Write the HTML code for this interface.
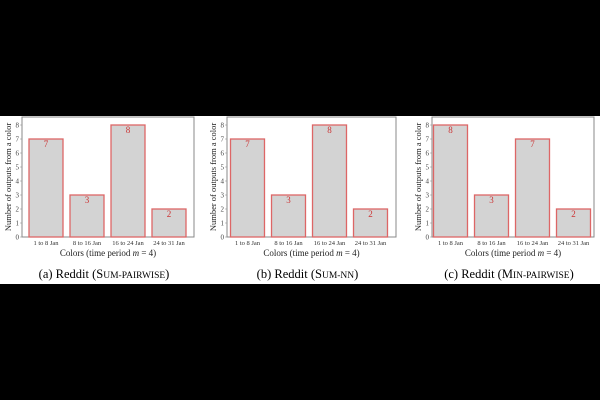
<!DOCTYPE html>
<html><head><meta charset="utf-8"><style>
body{margin:0;background:#000;width:600px;height:400px;overflow:hidden}
svg{display:block}
text{font-family:"Liberation Serif",serif}
</style></head><body>
<svg width="600" height="400">
<rect x="0" y="116" width="600" height="168" fill="#fff"/>
<g id="charts"></g>
</svg>
<script>
const categories=["1 to 8 Jan","8 to 16 Jan","16 to 24 Jan","24 to 31 Jan"];
const valuesA=[7,3,8,2];
const valuesB=[7,3,8,2];
const valuesC=[8,3,7,2];
const yTicks=[0,1,2,3,4,5,6,7,8];
const captions=["(a) Reddit (S","(b) Reddit (S","(c) Reddit (M"];
const captionSc=["um-Pairwise)","um-NN)","in-Pairwise)"];
const panels=[
 {vals:valuesA,left:22,right:194,first:46,ylab:8,name:"sum-pairwise"},
 {vals:valuesB,left:227,right:396,first:247.5,ylab:213,name:"sum-nn"},
 {vals:valuesC,left:432,right:594,first:450.5,ylab:418,name:"min-pairwise"}];
const NS="http://www.w3.org/2000/svg";
const root=document.getElementById('charts');
const plotTop=117,plotBottom=237,unit=14,step=41,bw=34;
function yPos(v){return plotBottom-v*unit;}
function mk(tag,attrs,parent,txt){const e=document.createElementNS(NS,tag);for(const k in attrs)e.setAttribute(k,attrs[k]);if(txt!==undefined)e.textContent=txt;parent.appendChild(e);return e;}
panels.forEach((p,pi)=>{
 const g=mk('g',{},root);
 
 
 const clip=mk('clipPath',{id:'c'+pi},g);mk('rect',{x:p.left-30,y:plotTop,width:p.right-p.left+40,height:200},clip);
 const ax=mk('rect',{x:p.left,y:plotTop,width:p.right-p.left,height:plotBottom-plotTop,fill:'none',stroke:'#888','stroke-width':1},g);
 
 
 yTicks.forEach(t=>{
  const tx=mk('text',{x:p.left-3,y:yPos(t)+2.5,'font-size':7,'text-anchor':'end',fill:'#444'},g,String(t));
  
  
  mk('line',{x1:p.left-2,x2:p.left,y1:yPos(t),y2:yPos(t),stroke:'#888','stroke-width':0.5},g);
 });
 p.vals.forEach((v,i)=>{
  const cx=p.first+i*step;
  const b=mk('rect',{x:cx-bw/2,y:yPos(v),width:bw,height:v*unit,fill:'#d3d3d3',stroke:'#d66','stroke-width':1.3},g);
  
  
  const lv=mk('text',{x:cx,y:yPos(v)+8,'font-size':9,'text-anchor':'middle',fill:'#c33'},g,String(v));
  
  
  const xl=mk('text',{x:cx,y:245,'font-size':6.5,'text-anchor':'middle',fill:'#333'},g,categories[i]);
  
  
 });
 const xt=mk('text',{x:(p.left+p.right)/2,y:256,'font-size':9,'text-anchor':'middle',fill:'#222'},g);
 
 
 xt.innerHTML='Colors (time period <tspan font-style="italic">m</tspan> = 4)';
 const yg=mk('g',{'clip-path':'url(#c'+pi+')'},g);
 const yt=mk('text',{x:0,y:0,'font-size':8.5,'text-anchor':'middle',fill:'#222',transform:'translate('+(p.ylab+3)+',177) rotate(-90)'},yg,'Number of outputs from a color');
 
 
 const cap=mk('text',{x:(p.left+p.right)/2-4,y:278,'font-size':12.5,'text-anchor':'middle',fill:'#000'},g);
 
 
 cap.innerHTML=captions[pi]+'<tspan font-size="9.5">'+captionSc[pi].toUpperCase().replace(')','</tspan><tspan font-size="12.5">)')+'</tspan>';
});
</script>
</body></html>
